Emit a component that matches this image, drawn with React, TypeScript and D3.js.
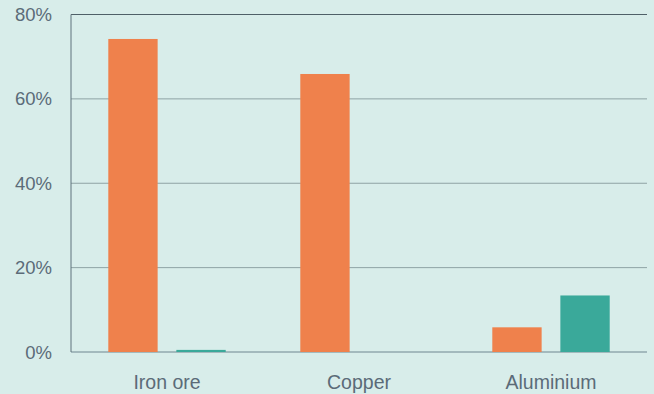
import React from "react";
import * as d3 from "d3";

const categories = ["Iron ore", "Copper", "Aluminium"];
const seriesNames = ["Share A", "Share B"];
const seriesA = [74.2, 65.9, 5.85];
const seriesB = [0.5, 0, 13.4];
const yTicks = [0, 20, 40, 60, 80];

const W = 654;
const H = 394;
const M = { left: 71, right: 7, top: 14.5, bottom: 42 };
const colors = ["#ef814c", "#3aa99a"];
const bg = "#d8edea";
const textColor = "#5b6b78";

export default function App() {
  const x0 = d3.scaleBand<string>().domain(categories).range([M.left, W - M.right]).padding(0);
  const groupPad = 37.3;
  const x1 = d3
    .scaleBand<string>()
    .domain(seriesNames)
    .range([groupPad, x0.bandwidth() - groupPad])
    .paddingInner(0.275)
    .paddingOuter(0);
  const y = d3.scaleLinear().domain([0, 80]).range([H - M.bottom, M.top]);
  const data = [seriesA, seriesB];
  const font = "'Liberation Sans', Arial, sans-serif";

  return (
    <svg
      width={W}
      height={H}
      style={{ position: "absolute", left: 0, top: 0, background: bg }}
    >
      <rect x={0} y={0} width={W} height={H} fill={bg} />
      {yTicks.map((t) => (
        <g key={t}>
          <line
            x1={M.left}
            x2={W - M.right}
            y1={y(t)}
            y2={y(t)}
            stroke={t === 80 ? "#4f6068" : t === 0 ? "#6f8690" : "#8ea3a4"}
            strokeWidth={1}
          />
          <text
            x={52}
            y={y(t)}
            textAnchor="end"
            dominantBaseline="central"
            fill={textColor}
            fontFamily={font}
            fontSize={18.5}
          >
            {t}%
          </text>
        </g>
      ))}
      <line x1={M.left} x2={M.left} y1={y(80)} y2={y(0)} stroke="#5f737c" strokeWidth={1} />
      {categories.map((c, i) => (
        <g key={c} transform={`translate(${x0(c)},0)`}>
          {seriesNames.map((s, j) => {
            const v = data[j][i];
            if (v <= 0) return null;
            return (
              <rect
                key={s}
                x={x1(s)}
                y={y(v)}
                width={x1.bandwidth()}
                height={y(0) - y(v)}
                fill={colors[j]}
              />
            );
          })}
          <text
            x={x0.bandwidth() / 2}
            y={382}
            textAnchor="middle"
            dominantBaseline="central"
            fill={textColor}
            fontFamily={font}
            fontSize={19.5}
          >
            {c}
          </text>
        </g>
      ))}
    </svg>
  );
}
